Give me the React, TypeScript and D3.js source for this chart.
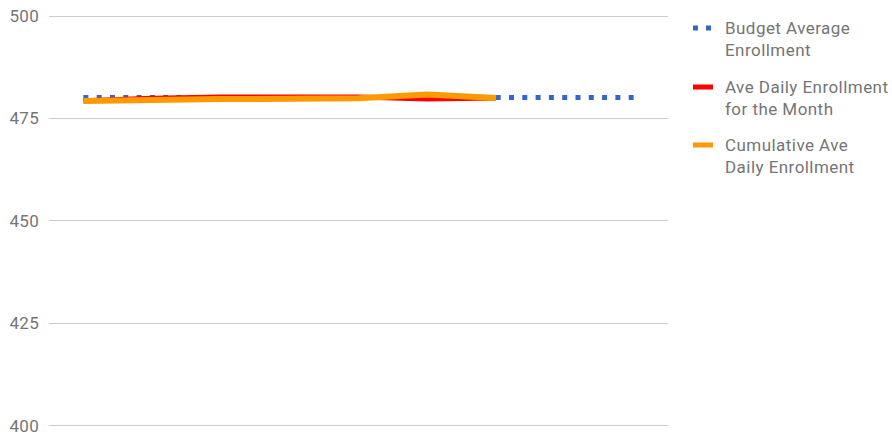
import React, {useRef, useEffect} from "react";
import * as d3 from "d3";

// school-year months (no x labels are drawn on the chart)
const months = ["Sep", "Oct", "Nov", "Dec", "Jan", "Feb", "Mar", "Apr", "May"];
const budgetAvg = [480, 480, 480, 480, 480, 480, 480, 480, 480];
const monthlyAvg = [479.2, 479.8, 480.1, 480.1, 480.1, 479.6, 479.9];
const cumulativeAvg = [479.15, 479.4, 479.6, 479.7, 479.8, 480.7, 479.9];
const yTicks = [400, 425, 450, 475, 500];

const series = [
  {name: ["Budget Average", "Enrollment"], values: budgetAvg, color: "#3366cc", width: 5, dash: "5 8.3"},
  {name: ["Ave Daily Enrollment", "for the Month"], values: monthlyAvg, color: "#ff0000", width: 5, dash: null},
  {name: ["Cumulative Ave", "Daily Enrollment"], values: cumulativeAvg, color: "#ff9900", width: 6, dash: null},
];

const W = 892;
const H = 438;
const FONT = "Roboto, 'Noto Sans', sans-serif";
const GREY = "#757575";

export default function App() {
  const svgRef = useRef<SVGSVGElement>(null);

  useEffect(() => {
    document.body.style.margin = "0";
    const svg = d3.select(svgRef.current);
    svg.selectAll("*").remove();

    const x = d3.scaleBand().domain(months).range([49, 668]);
    const y = d3.scaleLinear().domain([400, 500]).range([425, 15.6]);
    const cx = (i) => x(months[i]) + x.bandwidth() / 2;

    // Grid lines
    svg
      .selectAll(".grid")
      .data(yTicks)
      .join("line")
      .attr("class", "grid")
      .attr("x1", 49)
      .attr("x2", 668)
      .attr("y1", (d) => Math.round(y(d)) + 0.5)
      .attr("y2", (d) => Math.round(y(d)) + 0.5)
      .attr("stroke", "#cccccc")
      .attr("stroke-width", 1);

    // Y tick labels
    svg
      .selectAll(".ytick")
      .data(yTicks)
      .join("text")
      .attr("class", "ytick")
      .attr("x", 39)
      .attr("y", (d) => y(d) + 6.5)
      .attr("text-anchor", "end")
      .style("fill", GREY)
      .style("font-size", "17px")
      .style("letter-spacing", "0.3px")
      .style("font-family", FONT)
      .text((d) => d);

    // Lines
    const line = d3
      .line()
      .x((d, i) => cx(i))
      .y((d) => y(d));

    svg
      .selectAll(".series")
      .data(series)
      .join("path")
      .attr("class", "series")
      .attr("d", (s) => line(s.values))
      .attr("fill", "none")
      .attr("stroke", (s) => s.color)
      .attr("stroke-width", (s) => s.width)
      .attr("stroke-dasharray", (s) => s.dash)
      .attr("stroke-linejoin", "round");

    // Legend
    const legendY = [28, 87, 145];
    const lg = svg
      .selectAll(".legend")
      .data(series)
      .join("g")
      .attr("class", "legend")
      .attr("transform", (s, i) => `translate(0,${legendY[i]})`);

    lg.each(function (s) {
      const g = d3.select(this);
      if (s.dash) {
        g.selectAll("rect")
          .data([693, 706])
          .join("rect")
          .attr("x", (d) => d)
          .attr("y", -2.5)
          .attr("width", 5)
          .attr("height", 5)
          .attr("fill", s.color);
      } else {
        g.append("rect")
          .attr("x", 693)
          .attr("y", -2.5)
          .attr("width", 20)
          .attr("height", 5)
          .attr("fill", s.color);
      }
      g.selectAll("text")
        .data(s.name)
        .join("text")
        .attr("x", 725)
        .attr("y", (d, j) => 6 + j * 21.5)
        .style("fill", GREY)
        .style("font-size", "17px")
        .style("letter-spacing", "0.45px")
        .style("font-family", FONT)
        .text((d) => d);
    });
  }, []);

  return <svg ref={svgRef} width={W} height={H} style={{display: "block", background: "#fff"}} />;
}
